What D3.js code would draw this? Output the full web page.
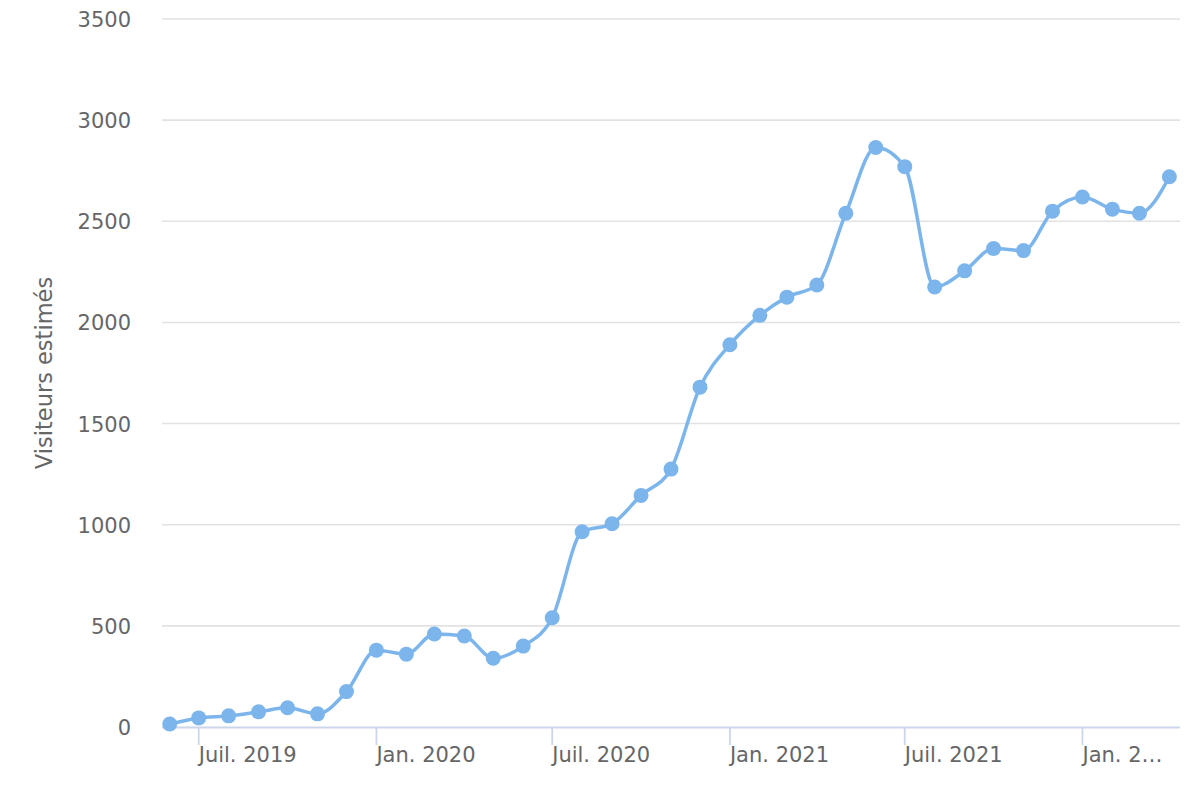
<!DOCTYPE html>
<html>
<head>
<meta charset="utf-8">
<script src="https://cdn.jsdelivr.net/npm/d3@7"></script>
<style>
  body { margin: 0; background: #fff; }
  svg { display: block; font-family: "DejaVu Sans", Verdana, sans-serif; }
</style>
</head>
<body>
<svg id="chart"></svg>
<script>
// data: monthly estimated visitors, Jun 2019 -> Apr 2022
var months = ["2019-06","2019-07","2019-08","2019-09","2019-10","2019-11","2019-12",
  "2020-01","2020-02","2020-03","2020-04","2020-05","2020-06","2020-07","2020-08","2020-09","2020-10","2020-11","2020-12",
  "2021-01","2021-02","2021-03","2021-04","2021-05","2021-06","2021-07","2021-08","2021-09","2021-10","2021-11","2021-12",
  "2022-01","2022-02","2022-03","2022-04"];
var visitors = [15,45,55,75,95,65,175,
  380,360,460,450,340,400,540,965,1005,1145,1275,1680,
  1890,2035,2125,2185,2540,2865,2770,2175,2255,2365,2355,2550,
  2620,2560,2540,2720];
var yTicks = [0,500,1000,1500,2000,2500,3000,3500];
var xTickMonths = ["2019-07","2020-01","2020-07","2021-01","2021-07","2022-01"];
var xTickLabels = ["Juil. 2019","Jan. 2020","Juil. 2020","Jan. 2021","Juil. 2021","Jan. 2022"];

var width = 1200, height = 800;
var plotLeft = 162, plotRight = 1180, plotTop = 19, plotBottom = 727;

var parse = d3.timeParse("%Y-%m");
var data = months.map((m, i) => ({date: parse(m), value: visitors[i]}));

var svg = d3.select("#chart").attr("width", width).attr("height", height);

var x = d3.scaleTime()
    .domain([d3.timeDay.offset(data[0].date, -8), d3.timeDay.offset(data[data.length-1].date, 11)])
    .range([plotLeft, plotRight]);
var y = d3.scaleLinear().domain([0, 3500]).range([plotBottom, plotTop]);

// grid lines
svg.append("g").selectAll("line")
    .data(yTicks.filter(d => d > 0))
  .enter().append("line")
    .attr("x1", plotLeft).attr("x2", plotRight)
    .attr("y1", d => y(d)).attr("y2", d => y(d))
    .attr("stroke", "#e2e2e2").attr("stroke-width", 1.6);

// y labels
svg.append("g").selectAll("text")
    .data(yTicks)
  .enter().append("text")
    .attr("x", 131).attr("y", d => y(d) + 8)
    .attr("text-anchor", "end")
    .attr("font-size", 21).attr("fill", "#666666")
    .text(d => d);

// y title
svg.append("text")
    .attr("transform", "translate(52," + (plotTop + plotBottom) / 2 + ")rotate(-90)")
    .attr("text-anchor", "middle")
    .attr("font-size", 22.5).attr("fill", "#666666")
    .text("Visiteurs estimés");

// x axis
svg.append("line")
    .attr("x1", plotLeft).attr("x2", plotRight)
    .attr("y1", plotBottom + 0.5).attr("y2", plotBottom + 0.5)
    .attr("stroke", "#ccd6eb").attr("stroke-width", 1.8);

var xt = svg.append("g").selectAll("g")
    .data(xTickMonths)
  .enter().append("g")
    .attr("transform", d => "translate(" + x(parse(d)) + ",0)");
xt.append("line")
    .attr("y1", plotBottom).attr("y2", plotBottom + 18)
    .attr("stroke", "#ccd6eb").attr("stroke-width", 1.8);
xt.append("text")
    .attr("x", 0).attr("y", plotBottom + 35)
    .attr("font-size", 21).attr("fill", "#666666")
    .text((d, i) => xTickLabels[i])
    .each(function(d, i) {
      // ellipsis for labels running past the plot edge
      var t = d3.select(this), full = xTickLabels[i], n = full.length;
      var x0 = x(parse(d));
      while (x0 + this.getComputedTextLength() > plotRight - 15 && n > 1) {
        n--;
        t.text(full.slice(0, n) + "…");
      }
    });

// spline
var line = d3.line()
    .x(d => x(d.date)).y(d => y(d.value))
    .curve(d3.curveMonotoneX);

svg.append("path")
    .datum(data)
    .attr("d", line)
    .attr("fill", "none")
    .attr("stroke", "#7cb5ec")
    .attr("stroke-width", 3.5);

svg.append("g").selectAll("circle")
    .data(data)
  .enter().append("circle")
    .attr("cx", d => x(d.date)).attr("cy", d => y(d.value))
    .attr("r", 7.5)
    .attr("fill", "#7cb5ec");
</script>
</body>
</html>
